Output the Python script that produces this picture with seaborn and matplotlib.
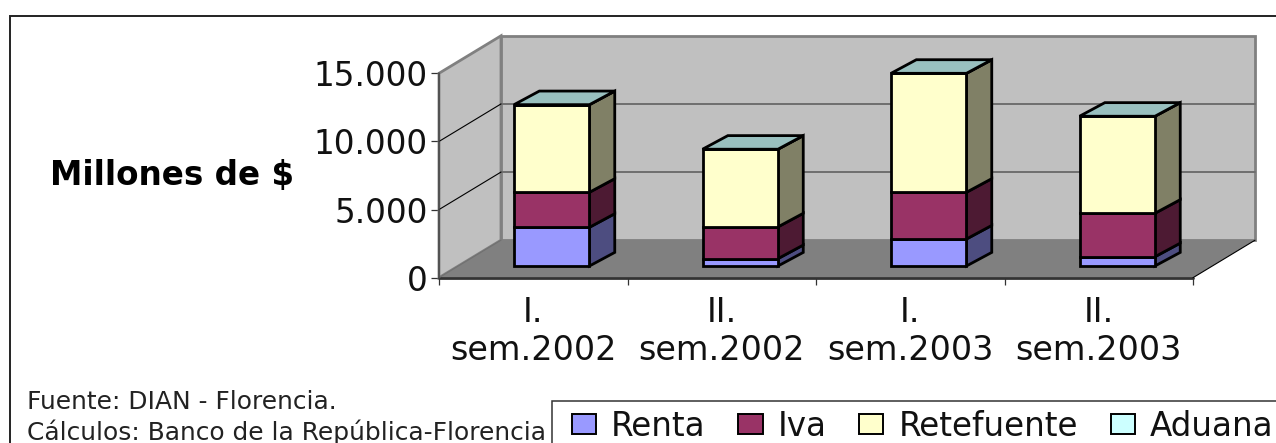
import matplotlib
matplotlib.use('Agg')
import matplotlib.pyplot as plt
import matplotlib.transforms as mtransforms
from matplotlib.patches import Patch, Polygon, Rectangle
import seaborn as sns

semestres = ['I.\nsem.2002', 'II.\nsem.2002', 'I.\nsem.2003', 'II.\nsem.2003']
renta = [2840, 540, 1980, 680]
iva = [2570, 2330, 3430, 3190]
retefuente = [6430, 5700, 8730, 7120]
aduana = [0, 0, 0, 0]

series_names = ['Renta', 'Iva', 'Retefuente', 'Aduana']
front_colors = ['#9999FF', '#993366', '#FFFFCC', '#CCFFFF']
side_colors = ['#4D4D80', '#4D1A33', '#808066', '#668080']
top_color = '#99C0BF'

y_ticks = [0, 5000, 10000, 15000]
y_labels = ['0', '5.000', '10.000', '15.000']

W, H = 1276, 443
PX_X = 754 / 4      # pixels per category
PX_Y = 204.4 / 15000  # pixels per unit
WALL_DX, WALL_DY = 62 / PX_X, 37.5 / PX_Y
FLOOR_DX, FLOOR_DY = 18.5 / PX_X, 11.7 / PX_Y
BAR_DX, BAR_DY = 25.3 / PX_X, 13.6 / PX_Y

sns.set_theme(style='white')
plt.rcParams['font.family'] = ['DejaVu Sans']

fig = plt.figure(figsize=(W / 100, H / 100), dpi=100, facecolor='white')
ax = fig.add_axes([439 / W, 1 - 277.7 / H, 754 / W, 204.4 / H])

# stacked bars, one seaborn call per series
bottom = [0, 0, 0, 0]
for values, color in zip([renta, iva, retefuente, aduana], front_colors):
    sns.barplot(x=semestres, y=values, bottom=bottom, color=color, saturation=1,
                width=0.4, edgecolor='black', linewidth=2.0, ax=ax, zorder=5)
    bottom = [b + v for b, v in zip(bottom, values)]

ax.set_xlim(-0.5, 3.5)
ax.set_ylim(0, 15000)
ax.patch.set_visible(False)
sns.despine(ax=ax, left=True, bottom=True)

# walls and floor behind the bars
x0, x1 = -0.5, 3.5
wall = dict(edgecolor='#808080', linewidth=2.0, zorder=1, clip_on=False)
ax.add_patch(Polygon([(x0, 0), (x0 + WALL_DX, WALL_DY), (x0 + WALL_DX, 15000 + WALL_DY), (x0, 15000)],
                     facecolor='#C0C0C0', **wall))
ax.add_patch(Rectangle((x0 + WALL_DX, WALL_DY), x1 - x0, 15000, facecolor='#C0C0C0', **wall))
ax.add_patch(Polygon([(x0, 0), (x1, 0), (x1 + WALL_DX, WALL_DY), (x0 + WALL_DX, WALL_DY)],
                     facecolor='#808080', edgecolor='none', zorder=2, clip_on=False))
for t in y_ticks[1:-1]:
    ax.plot([x0 + WALL_DX, x1 + WALL_DX], [t + WALL_DY, t + WALL_DY], color='#6E6E6E', lw=1.4, zorder=2, clip_on=False)
    ax.plot([x0, x0 + WALL_DX], [t, t + WALL_DY], color='black', lw=0.8, zorder=2, clip_on=False)
ax.plot([x0, x1], [0, 0], color='#333333', lw=2.0, zorder=3, clip_on=False)
ax.plot([x1, x1 + WALL_DX], [0, WALL_DY], color='black', lw=0.8, zorder=3, clip_on=False)
ax.plot([x0, x0 + WALL_DX], [0, WALL_DY], color='#707070', lw=0.8, zorder=3, clip_on=False)
ax.plot([x0, x0], [0, 15000], color='#444444', lw=1.1, zorder=3, clip_on=False)

# move bars back onto the floor, then add side and top faces
shift = mtransforms.Affine2D().translate(FLOOR_DX, FLOOR_DY) + ax.transData
edge = dict(edgecolor='black', linewidth=2.0, joinstyle='miter', clip_on=False)
n_cat = len(semestres)
for i, bar in enumerate(ax.patches):
    if bar.get_zorder() != 5:
        continue
    bar.set_transform(shift)
    bar.set_clip_on(False)
    bx, by, bw, bh = bar.get_x(), bar.get_y(), bar.get_width(), bar.get_height()
    series = i // n_cat
    ax.add_patch(Polygon([(bx + bw, by), (bx + bw + BAR_DX, by + BAR_DY),
                          (bx + bw + BAR_DX, by + bh + BAR_DY), (bx + bw, by + bh)],
                         facecolor=side_colors[series], transform=shift, zorder=4, **edge))
    if series == len(series_names) - 1:
        ax.add_patch(Polygon([(bx, by + bh), (bx + bw, by + bh),
                              (bx + bw + BAR_DX, by + bh + BAR_DY), (bx + BAR_DX, by + bh + BAR_DY)],
                             facecolor=top_color, transform=shift, zorder=4, **edge))

# axis ticks and labels
ax.set_yticks(y_ticks)
ax.set_yticklabels(y_labels)
ax.set_xticks([-0.5, 0.5, 1.5, 2.5, 3.5])
ax.set_xticklabels([])
ax.set_xticks(range(4), semestres, minor=True)
ax.tick_params(axis='y', left=True, length=5.8, width=0.9, color='#333333', pad=2.5, labelsize=23.5, labelcolor='#111111')
ax.tick_params(axis='x', which='major', bottom=True, length=5, width=0.9, color='#333333')
ax.tick_params(axis='x', which='minor', bottom=False, pad=9.5, labelsize=24, labelcolor='#111111')
for lab in ax.get_xticklabels(minor=True):
    lab.set_linespacing(1.16)
ax.set_xlabel('')

fig.text(294.5 / W, 1 - 176 / H, 'Millones de $', ha='right', va='center', fontsize=23.5, fontweight='bold', color='black')
fig.text(27 / W, 1 - 402 / H, 'Fuente: DIAN - Florencia.', ha='left', va='center', fontsize=17.9, color='#222222')
fig.text(27 / W, 1 - 432 / H, 'Cálculos: Banco de la República-Florencia', ha='left', va='center', fontsize=17.9,
         color='#222222')

# chart frame and legend frame run past the edge of the picture
fig.add_artist(Rectangle((10 / W, -0.1), 1.1, 1.1 - 15.5 / H, transform=fig.transFigure, fill=False,
                         edgecolor='#222222', linewidth=1.4))
handles = [Patch(facecolor=c, edgecolor='black', linewidth=1.4) for c in front_colors]
leg = fig.legend(handles, series_names, loc='upper left', bbox_to_anchor=(560.6 / W, 1 - 398.5 / H), ncol=4,
                 fontsize=23.5, frameon=False, borderaxespad=0, borderpad=0.35, handlelength=0.74, handleheight=0.56,
                 handletextpad=0.46, columnspacing=1.0, labelcolor='#111111')
fig.add_artist(Rectangle((551.5 / W, -0.1), 1.0, 0.1 + 1 - 400.5 / H, transform=fig.transFigure, facecolor='white',
                         edgecolor='#333333', linewidth=1.1, zorder=2))
leg.set_zorder(5)

fig.savefig('out.png', dpi=100)
